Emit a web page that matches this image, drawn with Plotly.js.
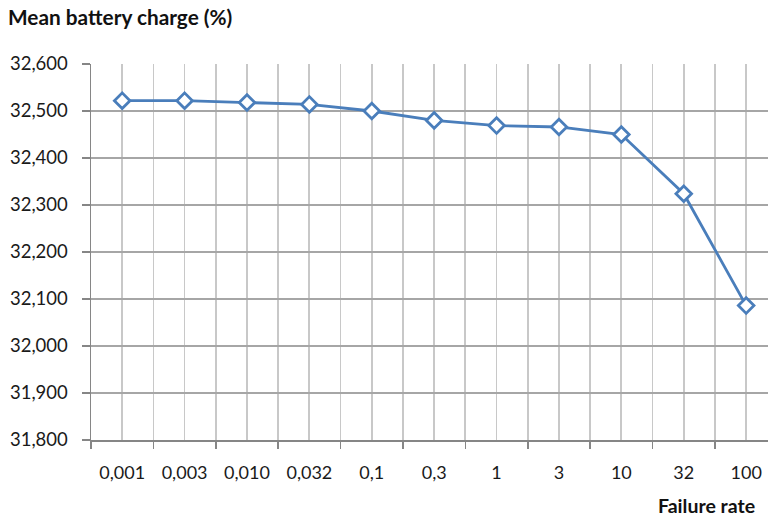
<!DOCTYPE html>
<html>
<head>
<meta charset="utf-8">
<script src="https://cdn.plot.ly/plotly-3.0.1.min.js"></script>
<style>html,body{margin:0;padding:0;background:#fff;}#chart{width:768px;height:518px;}</style>
</head>
<body>
<div id="chart"></div>
<script>
const categories = ["0,001","0,003","0,010","0,032","0,1","0,3","1","3","10","32","100"];
const meanCharge = [32522, 32522, 32518, 32514, 32500, 32480, 32469, 32466, 32450, 32324, 32086];
const yTicks = [31800, 31900, 32000, 32100, 32200, 32300, 32400, 32500, 32600];
const chartTitle = "Mean battery charge (%)";
const xTitle = "Failure rate";

const idx = categories.map((c, i) => i);
const bounds = categories.map((c, i) => i - 0.5).concat([categories.length - 0.5]);

const font = "Lato, 'Open Sans', sans-serif";
const trace = {
  x: idx,
  y: meanCharge,
  type: "scatter",
  mode: "lines+markers",
  line: {color: "#4a7ebb", width: 2.8},
  marker: {symbol: "diamond", size: 12, color: "#ffffff", line: {width: 2.8, color: "#4a7ebb"}},
  hoverinfo: "x+y"
};

const layout = {
  width: 768, height: 518,
  margin: {l: 91, r: 0, t: 64, b: 78, pad: 0},
  paper_bgcolor: "#fff", plot_bgcolor: "#fff",
  showlegend: false,
  font: {family: font, size: 18, color: "#1a1a1a"},
  title: {
    text: chartTitle,
    font: {family: font, size: 20.8, color: "#111", weight: "bold"},
    xref: "container", yref: "container",
    x: 8 / 768, xanchor: "left",
    y: 1 - 18 / 518, yanchor: "middle"
  },
  xaxis: {
    type: "linear",
    range: [-0.5, 10.35],
    tickvals: idx,
    ticktext: categories,
    ticks: "",
    showgrid: true,
    gridcolor: "#c8c8c8",
    gridwidth: 1.8,
    zeroline: false,
    showline: true,
    linecolor: "#868686",
    linewidth: 1.5,
    tickfont: {family: font, size: 18, color: "#1a1a1a"},
    ticklabelstandoff: 16,
    minor: {
      tickvals: bounds,
      ticks: "outside",
      ticklen: 7,
      tickcolor: "#868686",
      tickwidth: 1.5,
      showgrid: true,
      gridcolor: "#c8c8c8",
      gridwidth: 1.8
    },
    fixedrange: true
  },
  yaxis: {
    range: [31800, 32600],
    tickvals: yTicks,
    tickformat: ",d",
    ticks: "outside",
    ticklen: 8,
    tickcolor: "#868686",
    tickwidth: 1.5,
    showgrid: true,
    gridcolor: "#a6a6a6",
    gridwidth: 1.6,
    zeroline: false,
    showline: true,
    linecolor: "#868686",
    linewidth: 1.5,
    tickfont: {family: font, size: 18.5, color: "#1a1a1a"},
    ticklabelstandoff: 10,
    fixedrange: true
  },
  annotations: [{
    text: xTitle,
    xref: "paper", yref: "paper",
    x: (757 - 91) / 677, xanchor: "right",
    y: -(505 - 440) / 376, yanchor: "middle",
    showarrow: false,
    font: {family: font, size: 19.5, color: "#111", weight: "bold"}
  }]
};

Plotly.newPlot("chart", [trace], layout, {displayModeBar: false, staticPlot: true});
</script>
</body>
</html>
